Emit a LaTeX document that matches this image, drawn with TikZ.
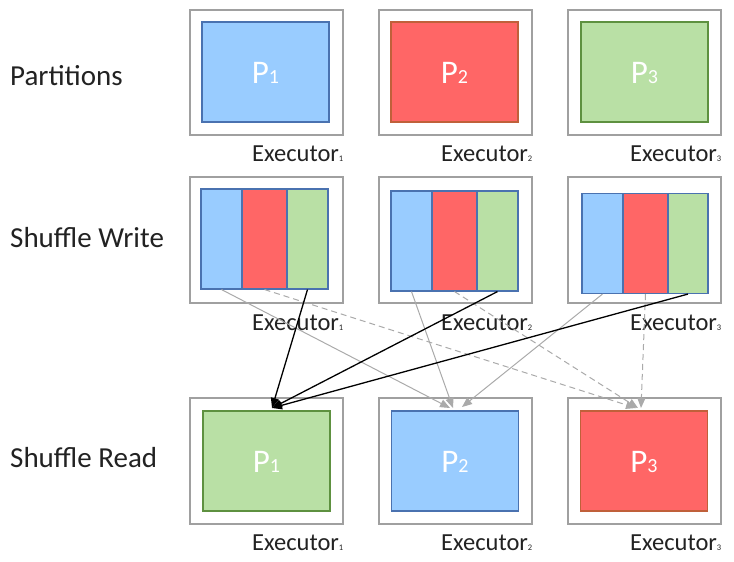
\documentclass[tikz,border=0pt]{standalone}
\usepackage{fontspec}
\setmainfont{Carlito}
\usetikzlibrary{arrows.meta}
\definecolor{pblue}{HTML}{99CCFF}
\definecolor{pred}{HTML}{FF6666}
\definecolor{pgreen}{HTML}{B9E0A5}
\definecolor{bblue}{HTML}{4A72B0}
\definecolor{bgreen}{HTML}{5E9140}
\definecolor{bred}{HTML}{C0603A}
\definecolor{obox}{HTML}{A0A0A0}
\definecolor{gline}{HTML}{AAAAAA}
\definecolor{txt}{HTML}{222222}
\begin{document}
\begin{tikzpicture}[x=1pt,y=-1pt,
  outerbox/.style={draw=obox,line width=1.4pt,fill=white,minimum width=153pt,minimum height=125pt,inner sep=0pt},
  part/.style={line width=1.1pt,minimum width=127pt,minimum height=100pt,inner sep=0pt},
  plabel/.style={anchor=base,text=white,font=\fontsize{33}{33}\selectfont,inner sep=0pt},
  seg/.style={draw=bblue,line width=1.1pt,minimum height=100pt,inner sep=0pt},
  rowlabel/.style={anchor=base west,text=txt,font=\fontsize{29}{29}\selectfont,inner sep=0pt},
  exlabel/.style={anchor=base west,text=txt,font=\fontsize{24.5}{24.5}\selectfont,inner sep=0pt},
  grayarrow/.style={draw=gline,line width=1pt,-{Triangle[length=10pt,width=8pt]}},
  dasharrow/.style={draw=gline,line width=1pt,dash pattern=on 6pt off 4pt,-{Triangle[length=10pt,width=8pt]}},
  blackarrow/.style={draw=black,line width=1.3pt,-{Triangle[length=10pt,width=8pt]}}
]
\useasboundingbox (0,0) rectangle (734,562);
\newcommand{\psub}[2]{#1{\fontsize{20}{20}\selectfont #2}}
\newcommand{\esub}[1]{Executor{\fontsize{8.5}{8.5}\selectfont #1}}

% row labels
\node[rowlabel] (lpart) at (10,85) {Partitions};
\node[rowlabel] (lwrite) at (10,247) {Shuffle Write};
\node[rowlabel] (lread) at (10,467) {Shuffle Read};

% Row 1: partitions
\node[outerbox] (o11) at (266.5,72.5) {};
\node[outerbox] (o12) at (455.5,72.5) {};
\node[outerbox] (o13) at (644.5,72.5) {};
\node[part,fill=pblue,draw=bblue] (p11) at (265.5,72) {};
\node[part,fill=pred,draw=bred] (p12) at (454.5,72) {};
\node[part,fill=pgreen,draw=bgreen] (p13) at (644.5,72) {};
\node[plabel] (t11) at (265.5,83.5) {\psub{P}{1}};
\node[plabel] (t12) at (454.5,83.5) {\psub{P}{2}};
\node[plabel] (t13) at (644.5,83.5) {\psub{P}{3}};
\node[exlabel] (e11) at (252,161) {\esub{1}};
\node[exlabel] (e12) at (441,161) {\esub{2}};
\node[exlabel] (e13) at (630,161) {\esub{3}};

% Row 2: shuffle write
\node[outerbox,minimum height=126pt] (o21) at (266.5,240) {};
\node[outerbox,minimum height=126pt] (o22) at (455.5,240) {};
\node[outerbox,minimum height=126pt] (o23) at (644.5,240) {};
\node[seg,fill=pblue,minimum width=41pt] (w1a) at (221.5,239) {};
\node[seg,fill=pred,minimum width=45pt] (w1b) at (264.5,239) {};
\node[seg,fill=pgreen,minimum width=41pt] (w1c) at (307.5,239) {};
\node[seg,fill=pblue,minimum width=41pt] (w2a) at (411.5,241) {};
\node[seg,fill=pred,minimum width=45pt] (w2b) at (454.5,241) {};
\node[seg,fill=pgreen,minimum width=41pt] (w2c) at (497.5,241) {};
\node[seg,fill=pblue,minimum width=41pt] (w3a) at (602.5,243.5) {};
\node[seg,fill=pred,minimum width=45pt] (w3b) at (645.5,243.5) {};
\node[seg,fill=pgreen,minimum width=40pt] (w3c) at (688,243.5) {};
\node[exlabel] (e21) at (252,330) {\esub{1}};
\node[exlabel] (e22) at (441,330) {\esub{2}};
\node[exlabel] (e23) at (630,330) {\esub{3}};

% Row 3: shuffle read
\node[outerbox,minimum height=126pt] (o31) at (266.5,461) {};
\node[outerbox,minimum height=126pt] (o32) at (455.5,461) {};
\node[outerbox,minimum height=126pt] (o33) at (644.5,461) {};
\node[part,fill=pgreen,draw=bgreen] (r1) at (266.5,461) {};
\node[part,fill=pblue,draw=bblue] (r2) at (455,461) {};
\node[part,fill=pred,draw=bred] (r3) at (644,461) {};
\node[plabel] (t31) at (266.5,472.5) {\psub{P}{1}};
\node[plabel] (t32) at (455,472.5) {\psub{P}{2}};
\node[plabel] (t33) at (644,472.5) {\psub{P}{3}};
\node[exlabel] (e31) at (252,550) {\esub{1}};
\node[exlabel] (e32) at (441,550) {\esub{2}};
\node[exlabel] (e33) at (630,550) {\esub{3}};

% arrow targets
\coordinate (k1) at (272,408);
\coordinate (k2a) at (450,408);
\coordinate (k2b) at (453,408);
\coordinate (k2c) at (462,407);
\coordinate (k3a) at (636,408);
\coordinate (k3b) at (638,408);
\coordinate (k3c) at (641,408);

% connectors
\draw[grayarrow] (w1a.south) -- (k2a);
\draw[grayarrow] (w2a.south) -- (k2b);
\draw[grayarrow] (w3a.south) -- (k2c);
\draw[dasharrow] (w1b.south) -- (k3a);
\draw[dasharrow] (w2b.south) -- (k3b);
\draw[dasharrow] (w3b.south) -- (k3c);
\draw[blackarrow] (w1c.south) -- (k1);
\draw[blackarrow] (w2c.south) -- (k1);
\draw[blackarrow] (w3c.south) -- (k1);
\end{tikzpicture}
\end{document}
